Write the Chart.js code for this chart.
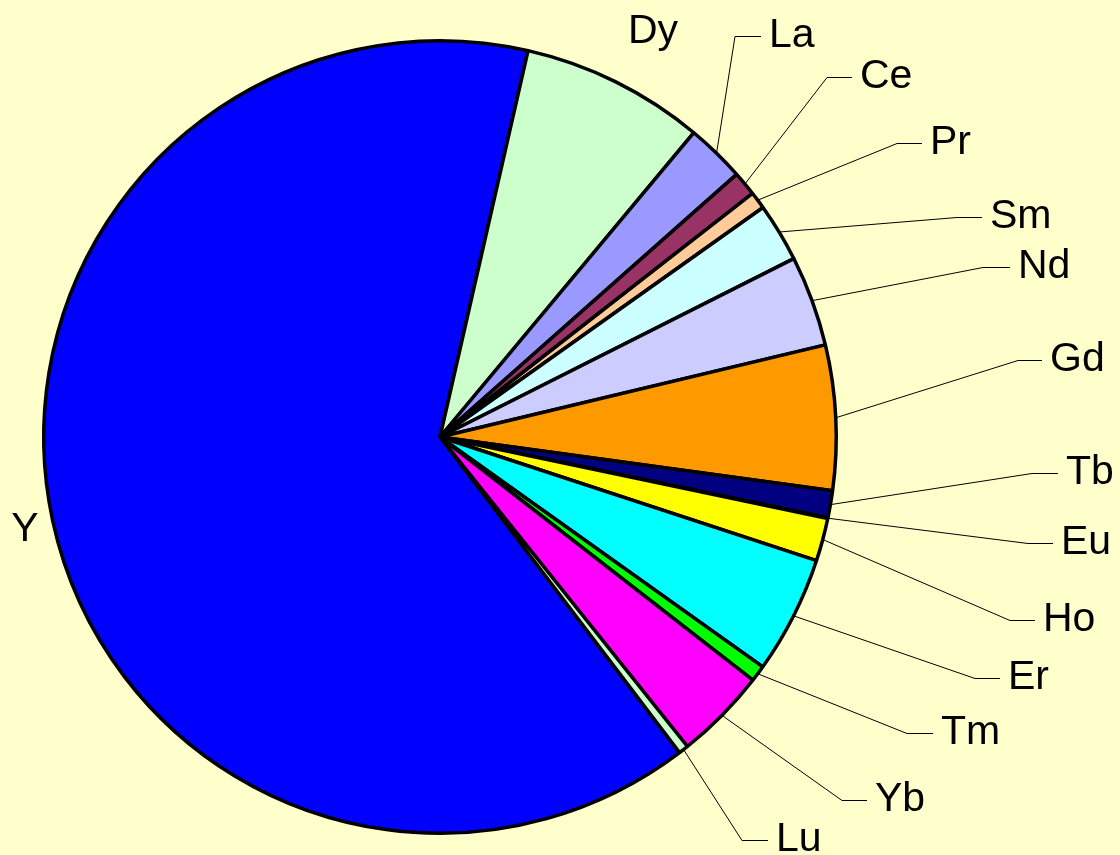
<!DOCTYPE html>
<html>
<head>
<meta charset="utf-8">
<script src="https://cdn.jsdelivr.net/npm/chart.js@4"></script>
<style>
  html, body { margin: 0; padding: 0; background: #FFFFCC; }
  #wrap { width: 1120px; height: 855px; }
</style>
</head>
<body>
<div id="wrap"><canvas id="pieChart"></canvas></div>
<script>
// elements, clockwise from the Y slice
const elements = ['Y', 'Dy', 'La', 'Ce', 'Pr', 'Sm', 'Nd', 'Gd', 'Tb', 'Eu', 'Ho', 'Er', 'Tm', 'Yb', 'Lu'];
const shares = [63.9, 7.5, 2.4, 1.0, 0.7, 2.4, 3.7, 5.9, 1.1, 0.03, 1.75, 4.8, 0.67, 3.75, 0.4];
const sliceColors = ['#0000FF', '#CCFFCC', '#9999FF', '#993366', '#FFCC99', '#CCFFFF', '#CCCCFF',
    '#FF9900', '#000080', '#FFFFFF', '#FFFF00', '#00FFFF', '#00FF00', '#FF00FF', '#CCFFCC'];

// label placement: elbow of the leader line + where its horizontal part ends
const labelLayout = {
    Y:  { text: [25, 530] },
    Dy: { text: [653, 32] },
    La: { elbow: [735, 36], end: 761 },
    Ce: { elbow: [827, 77], end: 852 },
    Pr: { elbow: [897, 143], end: 922 },
    Sm: { elbow: [957, 217], end: 982 },
    Nd: { elbow: [983, 267], end: 1010 },
    Gd: { elbow: [1018, 360], end: 1042 },
    Tb: { elbow: [1032, 473], end: 1058 },
    Eu: { elbow: [1028, 543], end: 1053 },
    Ho: { elbow: [1010, 620], end: 1035 },
    Er: { elbow: [975, 678], end: 1000 },
    Tm: { elbow: [907, 733], end: 933 },
    Yb: { elbow: [842, 800], end: 867 },
    Lu: { elbow: [742, 840], end: 768 }
};

const leaderLabels = {
    id: 'leaderLabels',
    afterDatasetsDraw(chart) {
        const c = chart.ctx;
        const arcs = chart.getDatasetMeta(0).data;
        c.save();
        c.font = '41px "Liberation Sans", Arial, sans-serif';
        c.fillStyle = '#000';
        c.strokeStyle = '#000';
        c.lineWidth = 1;
        c.textBaseline = 'middle';
        arcs.forEach((arc, i) => {
            const name = elements[i];
            const lay = labelLayout[name];
            if (lay.text) {
                c.textAlign = 'center';
                c.fillText(name, lay.text[0], lay.text[1]);
                return;
            }
            const p = arc.getProps(['x', 'y', 'startAngle', 'endAngle', 'outerRadius'], true);
            const mid = (p.startAngle + p.endAngle) / 2;
            const ax = p.x + Math.cos(mid) * (p.outerRadius + 1);
            const ay = p.y + Math.sin(mid) * (p.outerRadius + 1);
            c.beginPath();
            c.moveTo(ax, ay);
            c.lineTo(lay.elbow[0], lay.elbow[1] + 0.5);
            c.lineTo(lay.end, lay.elbow[1] + 0.5);
            c.stroke();
            c.textAlign = 'left';
            c.fillText(name, lay.end + 8, lay.elbow[1]);
        });
        c.restore();
    }
};

new Chart(document.getElementById('pieChart').getContext('2d'), {
    type: 'pie',
    data: {
        labels: elements,
        datasets: [{
            data: shares,
            backgroundColor: sliceColors,
            borderColor: '#000',
            borderWidth: 3.5
        }]
    },
    options: {
        responsive: true,
        maintainAspectRatio: false,
        animation: false,
        rotation: 142.8,
        layout: { padding: { left: 42, right: 282, top: 39, bottom: 20 } },
        plugins: {
            legend: { display: false },
            tooltip: { enabled: false }
        }
    },
    plugins: [leaderLabels]
});
</script>
</body>
</html>
